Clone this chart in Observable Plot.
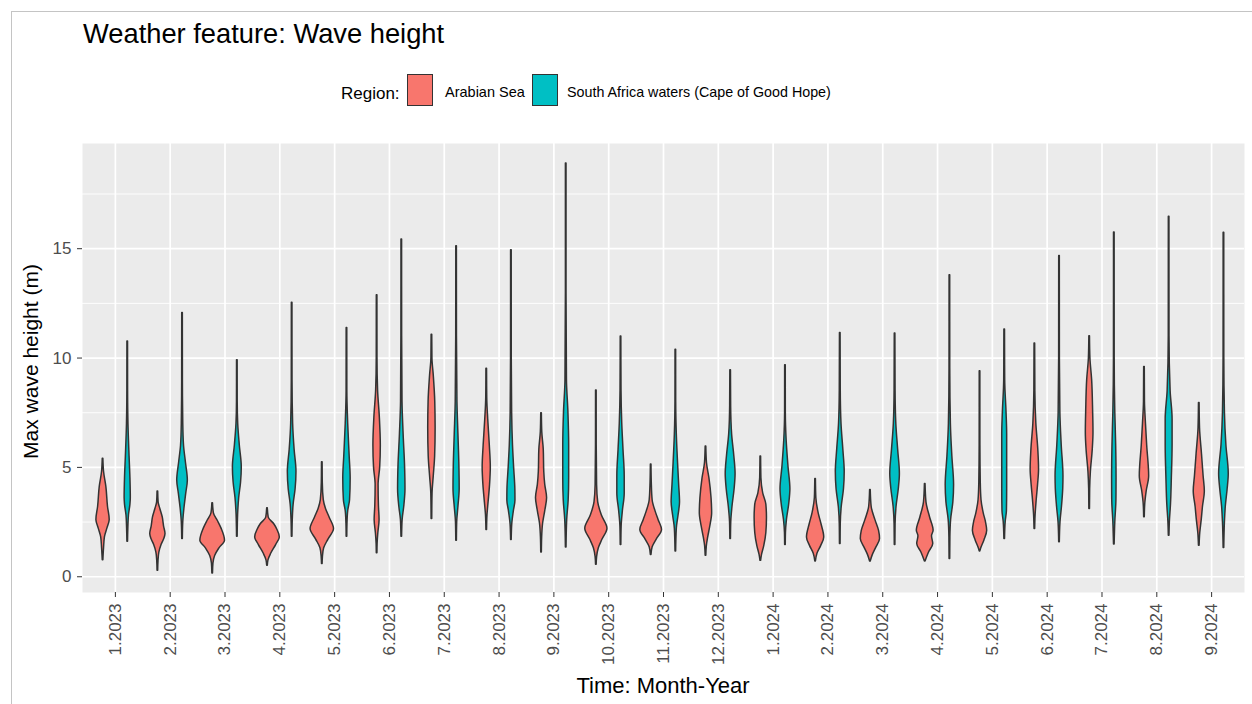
<!DOCTYPE html>
<html><head><meta charset="utf-8">
<script src="https://cdn.jsdelivr.net/npm/d3@7"></script>
<script src="https://cdn.jsdelivr.net/npm/@observablehq/plot@0.6"></script>
<style>
body{margin:0;background:#fff;font-family:"Liberation Sans",Arial,sans-serif;}
#wrap{position:relative;width:1252px;height:704px;overflow:hidden;background:#fff;}
#border{position:absolute;left:11px;top:11px;width:1260px;height:720px;border-top:1.5px solid #c4c4c4;border-left:1.5px solid #c4c4c4;}
.t{position:absolute;line-height:1;white-space:nowrap;color:#000;}
.key{position:absolute;width:24px;height:30px;border:1.5px solid #333;}
#plot{position:absolute;left:0;top:120px;}
</style></head>
<body><div id="wrap">
<div id="border"></div>
<div class="t" style="left:83px;top:20px;font-size:27.3px;">Weather feature: Wave height</div>
<div class="t" style="left:341px;top:84.5px;font-size:17px;">Region:</div>
<div class="key" style="left:407px;top:74px;background:#F8766D"></div>
<div class="t" style="left:445px;top:85px;font-size:14.5px;">Arabian Sea</div>
<div class="key" style="left:532px;top:74px;background:#00BFC4"></div>
<div class="t" style="left:567px;top:85px;font-size:14.3px;">South Africa waters (Cape of Good Hope)</div>
<div class="t" style="left:513px;top:675px;width:300px;text-align:center;font-size:22px;">Time: Month-Year</div>
<div class="t" style="left:-120px;top:351px;width:300px;text-align:center;font-size:21px;transform:rotate(-90deg);">Max wave height (m)</div>
<div id="plot"></div>
</div>
<script>
const months = ["1.2023","2.2023","3.2023","4.2023","5.2023","6.2023","7.2023","8.2023","9.2023","10.2023","11.2023","12.2023","1.2024","2.2024","3.2024","4.2024","5.2024","6.2024","7.2024","8.2024","9.2024"];
const regions = ["Arabian Sea", "South Africa waters (Cape of Good Hope)"];
const regionColors = ["#F8766D", "#00BFC4"];
const yTicks = [0, 5, 10, 15];
const yMinor = [2.5, 7.5, 12.5, 17.5];

// violin outlines: [wave height (m), relative violin width]
const arabianSea = [
  [[5.4,0],[4.8,.08],[4.1,.27],[3.2,.4],[2.6,.54],[2.2,.35],[1.8,.15],[1.3,.08],[0.76,0]],
  [[3.9,0],[3.4,.06],[3.1,.2],[2.7,.4],[2.3,.5],[1.95,.62],[1.7,.5],[1.45,.3],[1.1,.12],[0.7,.05],[0.27,0]],
  [[3.36,0],[2.9,.1],[2.55,.42],[2.2,.72],[1.65,1],[1.3,.55],[0.95,.2],[0.6,.06],[0.15,0]],
  [[3.13,0],[2.7,.1],[2.4,.55],[2.15,.8],[1.8,1],[1.45,.7],[1.05,.3],[0.75,.08],[0.5,0]],
  [[5.24,0],[4.3,.04],[3.5,.12],[3.1,.3],[2.7,.6],[2.18,.95],[1.7,.5],[1.3,.15],[0.9,.05],[0.58,0]],
  [[12.87,0],[10,.03],[8.5,.08],[7.3,.22],[6,.3],[5,.25],[4.2,.12],[3.2,.15],[2.6,.2],[2,.1],[1.5,.04],[1.07,0]],
  [[11.07,0],[10,.04],[9.2,.15],[8,.27],[6.8,.3],[5.5,.26],[4.6,.15],[3.8,.05],[2.64,0]],
  [[9.51,0],[8.2,.04],[7.2,.12],[6,.25],[5,.33],[4.2,.27],[3.4,.15],[2.8,.06],[2.14,0]],
  [[7.48,0],[6.6,.06],[5.8,.18],[4.8,.22],[4.2,.3],[3.6,.45],[3,.3],[2.4,.12],[1.8,.05],[1.11,0]],
  [[8.52,0],[6,.03],[4.2,.06],[3.4,.15],[2.8,.45],[2.2,.9],[1.7,.5],[1.3,.2],[0.9,.06],[0.55,0]],
  [[5.13,0],[4.3,.05],[3.5,.12],[3,.35],[2.6,.6],[2.14,.88],[1.7,.45],[1.35,.12],[1,0]],
  [[5.95,0],[5.2,.08],[4.5,.28],[3.6,.45],[2.9,.5],[2.3,.35],[1.8,.18],[1.4,.07],[0.96,0]],
  [[5.5,0],[4.5,.05],[3.8,.2],[3.3,.45],[2.7,.5],[2,.45],[1.4,.28],[1,.1],[0.73,0]],
  [[4.47,0],[3.6,.06],[2.9,.25],[2.4,.48],[1.8,.7],[1.4,.45],[1.05,.15],[0.7,0]],
  [[3.97,0],[3.2,.1],[2.6,.4],[2.1,.7],[1.73,.78],[1.3,.45],[1,.2],[0.7,0]],
  [[4.24,0],[3.4,.1],[2.7,.4],[2.1,.68],[1.85,.55],[1.5,.65],[1.1,.3],[0.7,0]],
  [[9.4,0],[6,.03],[4.3,.06],[3.5,.12],[2.9,.3],[2.5,.48],[2.1,.58],[1.65,.35],[1.3,.1],[1.16,0]],
  [[10.66,0],[8.5,.04],[7,.12],[5.8,.28],[4.9,.34],[4.2,.26],[3.5,.15],[2.8,.06],[2.18,0]],
  [[11,0],[10,.06],[9,.2],[7.6,.28],[6.6,.31],[5.8,.25],[4.8,.1],[4,.04],[3.1,0]],
  [[9.59,0],[8,.04],[7,.12],[6,.22],[4.6,.38],[3.9,.18],[3.3,.06],[2.72,0]],
  [[7.94,0],[6.8,.06],[5.6,.22],[4.6,.35],[3.9,.45],[3.2,.3],[2.6,.2],[2,.08],[1.42,0]]
];
const southAfrica = [
  [[10.76,0],[8.5,.03],[7,.06],[5.5,.15],[4.5,.22],[3.6,.25],[3.3,.22],[2.8,.1],[2.2,.05],[1.6,0]],
  [[12.06,0],[9,.03],[7,.06],[6,.12],[5.2,.28],[4.4,.43],[3.8,.3],[3.1,.15],[2.5,.06],[1.73,0]],
  [[9.9,0],[8,.03],[7,.07],[6,.2],[5,.36],[4.3,.3],[3.6,.15],[2.8,.06],[1.83,0]],
  [[12.53,0],[9,.03],[7,.08],[5.8,.2],[4.8,.35],[4,.28],[3.3,.12],[2.6,.05],[1.83,0]],
  [[11.37,0],[8.5,.03],[7,.1],[5.5,.22],[4.5,.3],[3.5,.25],[3,.1],[2.4,.04],[1.83,0]],
  [[15.42,0],[11,.03],[8,.06],[6.5,.15],[5,.27],[4,.3],[3.2,.2],[2.6,.07],[1.83,0]],
  [[15.11,0],[11,.03],[8,.07],[6.5,.15],[5,.23],[4,.25],[3.2,.15],[2.5,.05],[1.65,0]],
  [[14.93,0],[10,.03],[7.5,.06],[6,.13],[5,.22],[4,.32],[3.5,.33],[3,.2],[2.4,.07],[1.68,0]],
  [[18.9,0],[13,.02],[9,.06],[7.5,.18],[6,.24],[4.5,.24],[3.5,.2],[2.6,.08],[1.34,0]],
  [[10.99,0],[8.5,.04],[7,.1],[5.8,.2],[4.6,.3],[3.8,.3],[3,.15],[2.3,.05],[1.45,0]],
  [[10.38,0],[8,.03],[6.5,.08],[5.2,.18],[4.2,.27],[3.4,.34],[2.8,.22],[2.2,.08],[1.15,0]],
  [[9.44,0],[7.8,.04],[6.5,.12],[5.5,.3],[4.7,.4],[4,.32],[3.2,.15],[2.5,.05],[1.73,0]],
  [[9.67,0],[7.5,.03],[6.2,.1],[5,.25],[4,.4],[3.3,.3],[2.6,.12],[2,.04],[1.45,0]],
  [[11.15,0],[8.5,.04],[7,.1],[5.8,.25],[4.8,.36],[4,.3],[3.2,.12],[2.4,.04],[1.5,0]],
  [[11.12,0],[8.5,.04],[7,.1],[5.8,.25],[4.7,.39],[4,.3],[3.2,.12],[2.4,.04],[1.45,0]],
  [[13.79,0],[9.5,.03],[7,.08],[5.5,.2],[4.2,.34],[3.4,.28],[2.6,.1],[1.8,.04],[0.81,0]],
  [[11.3,0],[9,.04],[7.5,.15],[6.5,.2],[5,.2],[4,.2],[3,.18],[2.5,.08],[1.73,0]],
  [[14.67,0],[10,.03],[7.5,.07],[6,.18],[4.6,.32],[4,.3],[3.2,.2],[2.5,.08],[1.58,0]],
  [[15.74,0],[10,.03],[7.5,.08],[6,.15],[4.5,.18],[3.5,.17],[2.5,.08],[1.47,0]],
  [[16.46,0],[11,.03],[8.5,.12],[7.2,.28],[6,.28],[4.5,.22],[3.3,.15],[2.5,.06],[1.88,0]],
  [[15.73,0],[10,.03],[7.5,.08],[6,.2],[4.7,.39],[4,.3],[3.2,.15],[2.5,.08],[1.31,0]]
];

const dodge = 0.225, halfMax = 0.225, minW = 0.025;
const monthIdx = months.map((m, i) => i);
const rows = [];
[arabianSea, southAfrica].forEach((series, r) => {
  series.forEach((prof, i) => {
    const c = i + (r === 0 ? -dodge : dodge);
    prof.slice().sort((a, b) => a[0] - b[0]).forEach(([v, w]) => {
      const hw = Math.max(w, minW) * halfMax;
      rows.push({key: r + "-" + i, region: regions[r], v, x1: c - hw, x2: c + hw});
    });
  });
});

const chart = Plot.plot({
  width: 1252, height: 584,
  marginTop: 23, marginBottom: 112, marginLeft: 82, marginRight: 8,
  style: {fontFamily: "'Liberation Sans', Arial, sans-serif", fontSize: "17px", background: "transparent"},
  x: {type: "linear", domain: [-0.6, months.length - 0.4]},
  y: {domain: [-0.72, 19.81]},
  color: {domain: regions, range: regionColors},
  marks: [
    Plot.frame({fill: "#EBEBEB", stroke: "none"}),
    Plot.ruleY(yMinor, {stroke: "#fff", strokeWidth: 0.9}),
    Plot.ruleY(yTicks, {stroke: "#fff", strokeWidth: 1.7}),
    Plot.ruleX(monthIdx, {stroke: "#fff", strokeWidth: 1.7}),
    Plot.areaX(rows, {y: "v", x1: "x1", x2: "x2", z: "key", fill: "region", stroke: "#333", strokeWidth: 1.5, curve: "monotone-y"}),
    Plot.axisY(yTicks, {tickSize: 0, tickPadding: 11, color: "#4D4D4D", label: null}),
    Plot.axisY(yTicks, {tickSize: 5, tickFormat: () => "", color: "#333", label: null}),
    Plot.axisX(monthIdx, {tickSize: 0, tickPadding: 11, tickRotate: -90, tickFormat: i => months[i], color: "#4D4D4D", label: null}),
    Plot.axisX(monthIdx, {tickSize: 5, tickFormat: () => "", color: "#333", label: null})
  ]
});
document.getElementById("plot").appendChild(chart);
</script>
</body></html>
